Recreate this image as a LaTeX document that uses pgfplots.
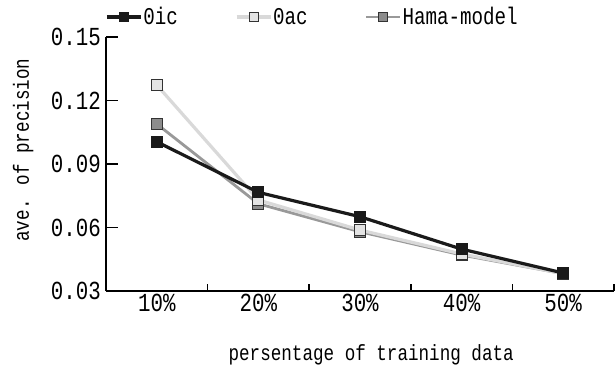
\documentclass[border=0pt]{standalone}
\usepackage{fontspec}
\setmainfont{Liberation Mono}[FakeStretch=0.8]
\usepackage{pgfplots}
\pgfplotsset{compat=1.18}
\definecolor{oic}{HTML}{1A1A1A}
\definecolor{oacline}{HTML}{D9D9D9}
\definecolor{oacfill}{HTML}{E4E4E4}
\definecolor{hamaline}{HTML}{999999}
\definecolor{hamafill}{HTML}{8C8C8C}
\definecolor{edge}{HTML}{333333}
\newcommand{\tickfont}{\fontsize{26}{26}\selectfont}
\newcommand{\labfont}{\fontsize{22}{22}\selectfont}
\newcommand{\legfont}{\fontsize{24}{24}\selectfont}
\begin{document}
\begin{tikzpicture}
\pgfplotsset{
  oicstyle/.style={color=oic, line width=3.2pt, mark=square*, mark size=5.5pt, mark options={fill=oic, draw=oic, line width=0.8pt, solid}},
  oacstyle/.style={color=oacline, line width=3.2pt, mark=square*, mark size=5.5pt, mark options={fill=oacfill, draw=edge, line width=0.8pt, solid}},
  hamastyle/.style={color=hamaline, line width=2.8pt, mark=square*, mark size=5.5pt, mark options={fill=hamafill, draw=edge, line width=0.8pt, solid}},
}
\begin{axis}[
  scale only axis, width=508pt, height=254pt,
  xmin=-0.5, xmax=4.5, ymin=0.03, ymax=0.15,
  axis x line*=bottom, axis y line*=left,
  axis line style={line width=1.8pt, -, black},
  xtick={0,1,2,3,4}, xticklabels={10\%,20\%,30\%,40\%,50\%},
  minor xtick={0.5,1.5,2.5,3.5,4.5},
  ytick={0.03,0.06,0.09,0.12,0.15},
  yticklabels={0.03,0.06,0.09,0.12,0.15},
  tick align=inside,
  major tick length=12pt, minor tick length=7pt,
  major x tick style={draw=none},
  minor x tick style={line width=1.5pt, black},
  major y tick style={line width=1.8pt, black},
  /pgf/number format/assume math mode=true,
  yticklabel style={font=\tickfont, inner sep=0pt, xshift=-5pt},
  xticklabel style={font=\tickfont, inner sep=0pt, yshift=-3pt},
  xlabel={persentage of training data},
  ylabel={ave. of precision},
  xlabel style={font=\labfont, at={(axis description cs:0.522,-0.25)}, anchor=center},
  ylabel style={font=\labfont, at={(axis description cs:-0.163,0.555)}, anchor=center},
  legend columns=3,
  legend style={draw=none, fill=none, font=\legfont, at={(axis description cs:-0.002,1.079)}, anchor=west, inner sep=0pt,
    nodes={inner sep=1pt},
    /tikz/every even column/.append style={column sep=56pt}},
  legend image code/.code={\draw[mark repeat=2, mark phase=2, #1, mark size=4.5pt] plot coordinates {(0pt,0pt) (17pt,0pt) (34pt,0pt)};},
]
\addlegendimage{oicstyle}\addlegendentry{0ic}
\addlegendimage{oacstyle}\addlegendentry{0ac}
\addlegendimage{hamastyle}\addlegendentry{Hama-model}
\addplot[hamastyle, forget plot] coordinates {(0,0.1089) (1,0.0712) (2,0.0580) (3,0.0470) (4,0.0382)};
\addplot[oacstyle, forget plot] coordinates {(0,0.1273) (1,0.0730) (2,0.0588) (3,0.0475) (4,0.0382)};
\addplot[oicstyle, forget plot] coordinates {(0,0.1005) (1,0.0766) (2,0.0651) (3,0.0498) (4,0.0385)};
\end{axis}
\pgfresetboundingbox
\path[use as bounding box] (-106pt,-74pt) rectangle (510pt,291pt);
\end{tikzpicture}
\end{document}
